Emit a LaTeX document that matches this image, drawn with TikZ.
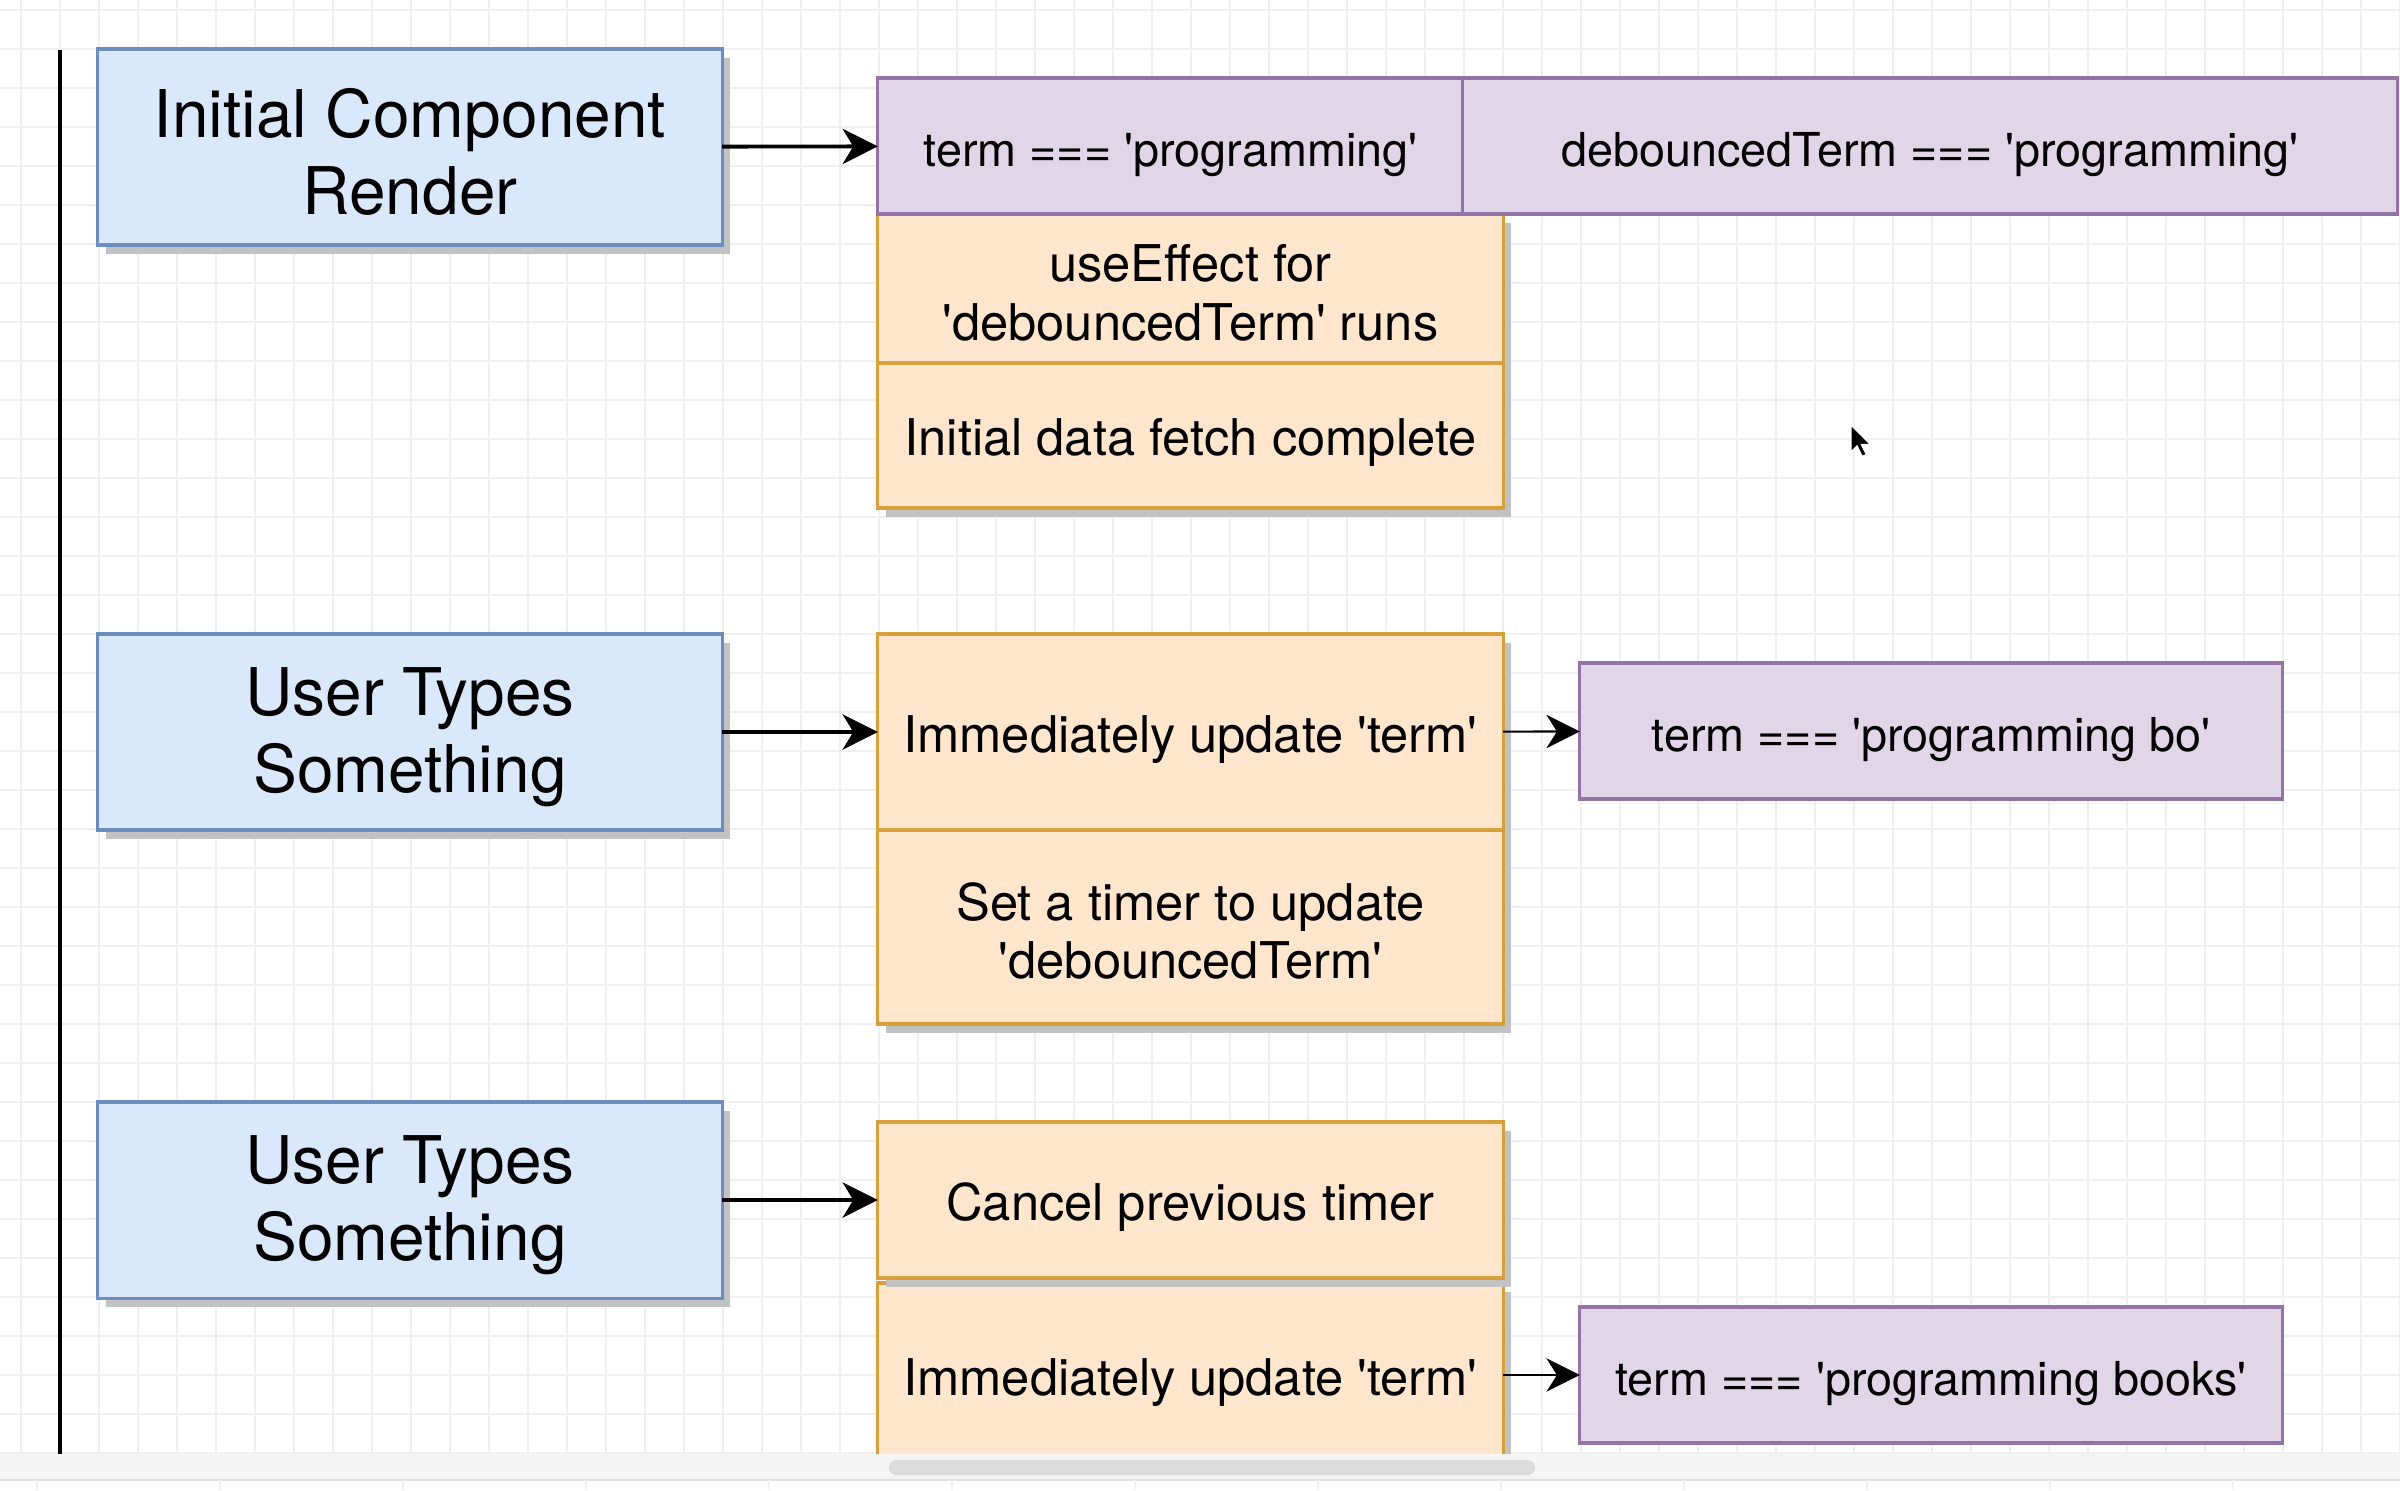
\documentclass[tikz,border=0pt]{standalone}
\usepackage{fontspec}
\setmainfont{TeX Gyre Heros}[Ligatures=TeXOff]
\usetikzlibrary{arrows.meta,shadows}
\definecolor{blueFill}{HTML}{DAE8FC}
\definecolor{blueLine}{HTML}{6C8EBF}
\definecolor{orangeFill}{HTML}{FFE6CC}
\definecolor{orangeLine}{HTML}{D8A03A}
\definecolor{purpleFill}{HTML}{E1D6E7}
\definecolor{purpleLine}{HTML}{9673A6}
\definecolor{gridGray}{HTML}{F0F0F0}
\definecolor{stripGray}{HTML}{F4F4F4}
\definecolor{barGray}{HTML}{DCDCDC}

\begin{document}
\begin{tikzpicture}[x=0.01cm,y=-0.01cm,
    card/.style={draw,line width=0.9pt,inner sep=0pt,outer sep=0pt,align=center},
    shade/.style={drop shadow={opacity=1,fill=black!24,shadow xshift=0.08cm,shadow yshift=-0.09cm}},
    oneline/.style={text height=11.6pt,text depth=0pt},
    twoline/.style={text height=#1},
    render/.style={card,shade,twoline=38.7pt,fill=blueFill,draw=blueLine,minimum width=6.24cm,minimum height=1.96cm,
      font=\fontsize{18.7pt}{21.9pt}\selectfont},
    effect/.style={card,shade,fill=orangeFill,draw=orangeLine,minimum width=6.25cm,
      font=\fontsize{14.4pt}{16.6pt}\selectfont},
    state/.style={card,oneline,fill=purpleFill,draw=purpleLine,minimum height=1.36cm,
      font=\fontsize{13.3pt}{16pt}\selectfont},
    flow/.style={-{Stealth[length=10pt,width=10pt,inset=3pt]},line width=1.1pt},
    thinflow/.style={-{Stealth[length=9.5pt,width=9.5pt,inset=3pt]},line width=0.6pt}]
  \useasboundingbox (0,0) rectangle (2400,1490);
  \fill[white] (0,0) rectangle (2400,1490);
  \foreach \gx in {21,60,...,2400} \draw[gridGray,line width=0.5pt] (\gx,0) -- (\gx,1454);
  \foreach \gy in {10,49,...,1454} \draw[gridGray,line width=0.5pt] (0,\gy) -- (2400,\gy);
  \draw[line width=1.1pt] (60,50) -- (60,1454);

  % initial render
  \node[render] (init) at (410,147) {Initial Component\\Render};
  \node[effect,twoline=29.6pt,minimum height=1.49cm] (eff) at (1190.5,288.5) {useEffect for\\'debouncedTerm' runs};
  \node[effect,oneline,minimum height=1.45cm] (fetch) at (1190.5,435.5) {Initial data fetch complete};
  \node[state,minimum width=5.85cm] (term) at (1170.5,146) {term === 'programming'};
  \node[state,minimum width=9.34cm] (deb) at (1930,146) {debouncedTerm === 'programming'};
  \draw[flow] (init) -- (term);

  % first key press
  \node[render] (typeA) at (410,732) {User Types\\Something};
  \node[effect,oneline,minimum height=1.96cm] (updA) at (1190.5,732) {Immediately update 'term'};
  \node[effect,twoline=29.6pt,minimum height=1.94cm] (timer) at (1190.5,927) {Set a timer to update\\'debouncedTerm'};
  \node[state,minimum width=7.02cm] (bo) at (1931,731) {term === 'programming bo'};
  \draw[flow] (typeA) -- (updA);
  \draw[thinflow] (updA) -- (bo);

  % second key press
  \node[render] (typeB) at (410,1200) {User Types\\Something};
  \node[effect,oneline,minimum height=1.84cm] (updB) at (1190.5,1375) {Immediately update 'term'};
  \node[effect,oneline,minimum height=1.56cm] (cancel) at (1190.5,1200) {Cancel previous timer};
  \node[state,minimum width=7.02cm] (books) at (1931,1375) {term === 'programming books'};
  \draw[flow] (typeB) -- (cancel);
  \draw[thinflow] (updB) -- (books);

  % pointer
  \fill[black,draw=white,line width=0.4pt] (1851,425) -- ++(0,27) -- ++(6,-6) -- ++(5,10.5)
    -- ++(4.5,-2) -- ++(-5,-10) -- ++(9,0) -- cycle;

  % window bottom
  \fill[stripGray] (0,1454) rectangle (2400,1480);
  \draw[black!12,line width=0.5pt] (0,1480) -- (2400,1480);
  \foreach \sx in {37,220,...,2400} \draw[gridGray,line width=0.5pt] (\sx,1480) -- (\sx,1490);
  \fill[barGray,rounded corners=0.075cm] (889,1460) rectangle (1535,1475);
\end{tikzpicture}
\end{document}
